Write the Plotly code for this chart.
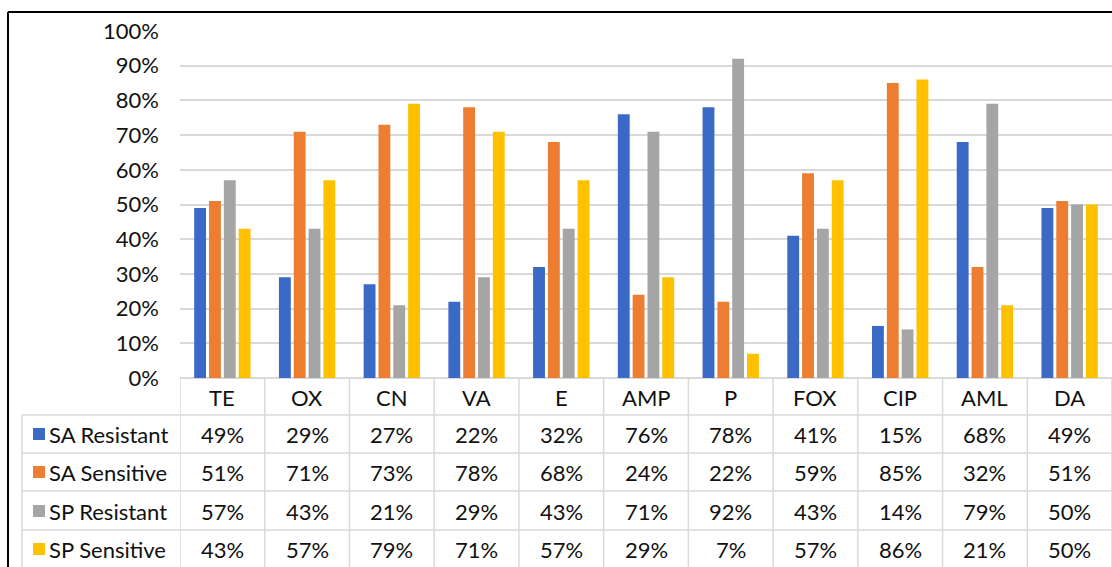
import plotly.graph_objects as go

# Antibiotic resistance / sensitivity profile
antibiotics = ["TE", "OX", "CN", "VA", "E", "AMP", "P", "FOX", "CIP", "AML", "DA"]
sa_resistant = [49, 29, 27, 22, 32, 76, 78, 41, 15, 68, 49]
sa_sensitive = [51, 71, 73, 78, 68, 24, 22, 59, 85, 32, 51]
sp_resistant = [57, 43, 21, 29, 43, 71, 92, 43, 14, 79, 50]
sp_sensitive = [43, 57, 79, 71, 57, 29, 7, 57, 86, 21, 50]
y_ticks = [0, 10, 20, 30, 40, 50, 60, 70, 80, 90, 100]

series = [
    ("SA Resistant", sa_resistant, "#3a69c6"),
    ("SA Sensitive", sa_sensitive, "#ed7d31"),
    ("SP Resistant", sp_resistant, "#a5a5a5"),
    ("SP Sensitive", sp_sensitive, "#ffc000"),
]

W, H = 1112, 567
FONT = "Lato"
TXT = "#111111"
FS = 22
GRID = "#d9d9d9"


def px_x(x):
    return x / W


def px_y(y):
    return (H - y) / H


fig = go.Figure()
for name, vals, col in series:
    fig.add_trace(go.Bar(
        x=antibiotics, y=vals, name=name,
        marker=dict(color=col, line=dict(width=0)),
        showlegend=False,
    ))

shapes = []
annotations = []

# data table below the axis
plot_left, plot_bottom = 180, 378
header_bottom = 415
row_lines = [415, 453, 491, 530]
row_centers = [434, 472, 511, 549]
legend_left = 22

# horizontal row separators
for y in row_lines:
    shapes.append(dict(type="line", xref="paper", yref="paper",
                       x0=px_x(legend_left), x1=1, y0=px_y(y), y1=px_y(y),
                       line=dict(color=GRID, width=1.5)))
# vertical column separators
for i in range(len(antibiotics) + 1):
    shapes.append(dict(type="line", xref="x", yref="paper",
                       x0=i - 0.5, x1=i - 0.5, y0=px_y(plot_bottom), y1=0,
                       line=dict(color=GRID, width=1.5)))
# left edge of legend column
shapes.append(dict(type="line", xref="paper", yref="paper",
                   x0=px_x(legend_left), x1=px_x(legend_left),
                   y0=px_y(header_bottom), y1=0,
                   line=dict(color=GRID, width=1.5)))

# header labels
for i, ab in enumerate(antibiotics):
    annotations.append(dict(xref="x", yref="paper", x=i, y=px_y(397),
                            xanchor="center", yanchor="middle",
                            text=ab, showarrow=False,
                            font=dict(family=FONT, size=FS, color=TXT)))

# rows: legend key + values
for (name, vals, col), yc in zip(series, row_centers):
    shapes.append(dict(type="rect", xref="paper", yref="paper",
                       x0=px_x(33), x1=px_x(45),
                       y0=px_y(yc + 6), y1=px_y(yc - 6),
                       fillcolor=col, line=dict(width=0)))
    annotations.append(dict(xref="paper", yref="paper", x=px_x(47), y=px_y(yc),
                            xanchor="left", yanchor="middle",
                            text=name, showarrow=False,
                            font=dict(family=FONT, size=FS, color=TXT)))
    for i, v in enumerate(vals):
        annotations.append(dict(xref="x", yref="paper", x=i, y=px_y(yc),
                                xanchor="center", yanchor="middle",
                                text=f"{v}%", showarrow=False,
                                font=dict(family=FONT, size=FS, color=TXT)))

# outer frame (top and left edges)
shapes.append(dict(type="line", xref="paper", yref="paper",
                   x0=px_x(8), x1=1, y0=px_y(12), y1=px_y(12),
                   line=dict(color="#000000", width=2)))
shapes.append(dict(type="line", xref="paper", yref="paper",
                   x0=px_x(8), x1=px_x(8), y0=px_y(12), y1=0,
                   line=dict(color="#000000", width=2)))

fig.update_layout(
    width=W, height=H,
    margin=dict(l=0, r=0, t=0, b=0, autoexpand=False),
    paper_bgcolor="white", plot_bgcolor="white",
    barmode="group", bargap=0.3, bargroupgap=0.2,
    shapes=shapes, annotations=annotations,
    xaxis=dict(domain=[px_x(plot_left), 1], range=[-0.5, 10.5],
               showticklabels=False, showgrid=False, zeroline=False,
               showline=False, automargin=False),
    yaxis=dict(domain=[px_y(plot_bottom), px_y(31)], range=[0, 100],
               tickvals=y_ticks, ticktext=[f"{t}%" for t in y_ticks],
               showgrid=True, gridcolor=GRID, gridwidth=1.5,
               zeroline=True, zerolinecolor=GRID, zerolinewidth=1.5,
               ticks="", ticklabelstandoff=20, automargin=False,
               tickfont=dict(family=FONT, size=FS, color=TXT)),
)

fig.write_html("out.html")
